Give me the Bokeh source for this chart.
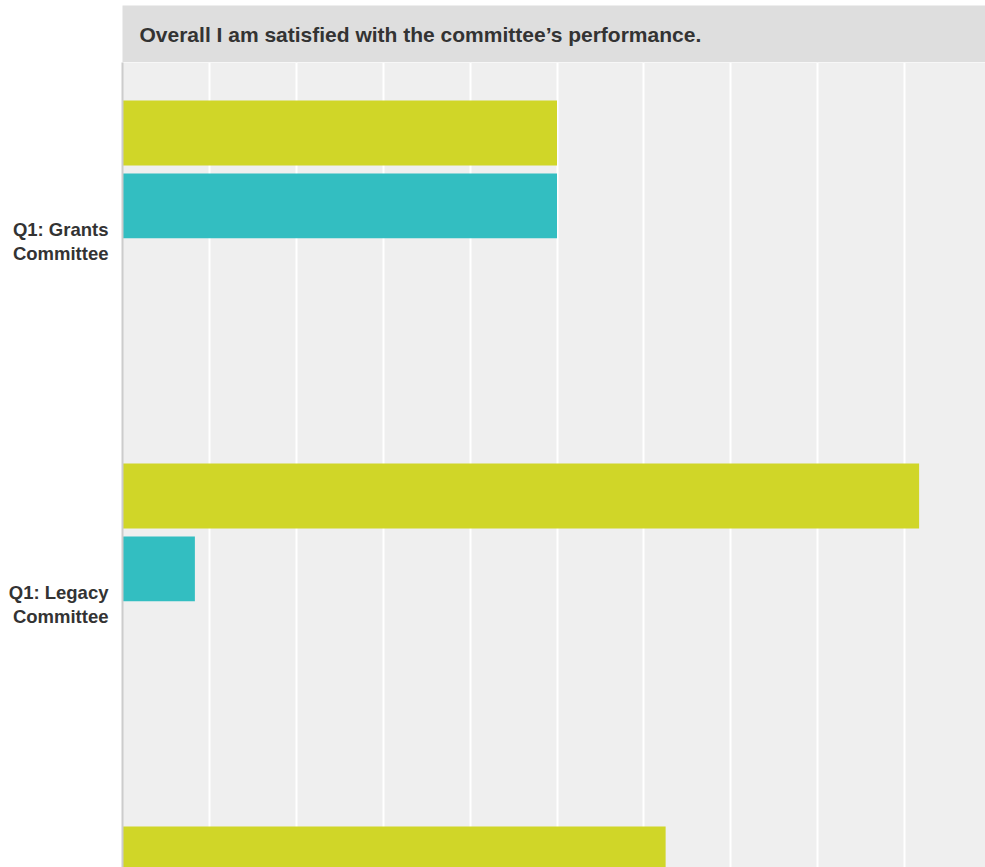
from bokeh.plotting import figure
from bokeh.models import Range1d, FixedTicker, ColumnDataSource, Grid
from bokeh.layouts import column
from bokeh.embed import file_html
from bokeh.resources import INLINE
from bokeh.core.properties import value

# ---- data ----
title_text = "Overall I am satisfied with the committee\u2019s performance."
categories = ["Q1: Grants\nCommittee", "Q1: Legacy\nCommittee", "Q1: Third\nCommittee"]
series_yellow = [50.0, 91.67, 62.5]
series_teal = [50.0, 8.33, 37.5]
x_ticks = [0, 10, 20, 30, 40, 50, 60, 70, 80, 90, 100]

# ---- styling / layout ----
FONT = "Liberation Sans"
YELLOW = "#d0d628"
TEAL = "#33bec1"
GROUP = 5.0           # slots per category
BAR_H = 0.895
FIRST = 0.97
PITCH = 1.005

W = 985
LEFT = 122
FRAME_W = W - LEFT
PX_PER_UNIT = 8.69
MAIN_H = 805
SLOT_PX = 72.6

n = len(categories)
label_pos = [GROUP * i + GROUP / 2 - 0.03 for i in range(n)]
y_yellow = [GROUP * i + FIRST for i in range(n)]
y_teal = [GROUP * i + FIRST + PITCH for i in range(n)]

# banner figure (title)
banner = figure(width=W, height=62, output_backend="svg", toolbar_location=None,
                x_range=Range1d(0, FRAME_W), y_range=Range1d(0, 1),
                min_border_left=LEFT, min_border_right=0, min_border_top=5, min_border_bottom=0,
                x_axis_location=None, y_axis_location=None)
banner.background_fill_color = "#dedede"
banner.border_fill_color = "white"
banner.outline_line_color = None
banner.grid.visible = False
banner.text(x=[17], y=[0.5], text=[title_text], text_font=value(FONT),
            text_font_style="bold", text_font_size="21px", text_color="#333333",
            text_baseline="middle", text_align="left")

# main figure
p = figure(width=W, height=MAIN_H, output_backend="svg", toolbar_location=None,
           x_range=Range1d(0, FRAME_W / PX_PER_UNIT), y_range=Range1d(MAIN_H / SLOT_PX, 0),
           min_border_left=LEFT, min_border_right=0, min_border_top=0, min_border_bottom=0,
           x_axis_location=None)
p.background_fill_color = "#efefef"
p.outline_line_color = None
p.ygrid.visible = False
p.add_layout(Grid(dimension=0, ticker=FixedTicker(ticks=x_ticks),
                  grid_line_color="white", grid_line_width=2))

src = ColumnDataSource(dict(cat=categories, ya=y_yellow, yb=y_teal,
                            va=series_yellow, vb=series_teal))
p.hbar(y="ya", left=0, right="va", height=BAR_H, source=src, fill_color=YELLOW, line_color=None)
p.hbar(y="yb", left=0, right="vb", height=BAR_H, source=src, fill_color=TEAL, line_color=None)

ax = p.yaxis[0]
ax.ticker = FixedTicker(ticks=label_pos)
ax.major_label_overrides = {pos: lab for pos, lab in zip(label_pos, categories)}
ax.axis_line_color = "#cccccc"
ax.axis_line_width = 2
ax.major_tick_line_color = None
ax.minor_tick_line_color = None
ax.major_tick_out = 0
ax.major_tick_in = 0
ax.major_label_text_font = FONT
ax.major_label_text_font_style = "bold"
ax.major_label_text_font_size = "18.5px"
ax.major_label_text_color = "#333333"
ax.major_label_text_line_height = 1.15
ax.major_label_standoff = 14

layout = column(banner, p, spacing=0)
open("out.html", "w").write(file_html(layout, INLINE))
